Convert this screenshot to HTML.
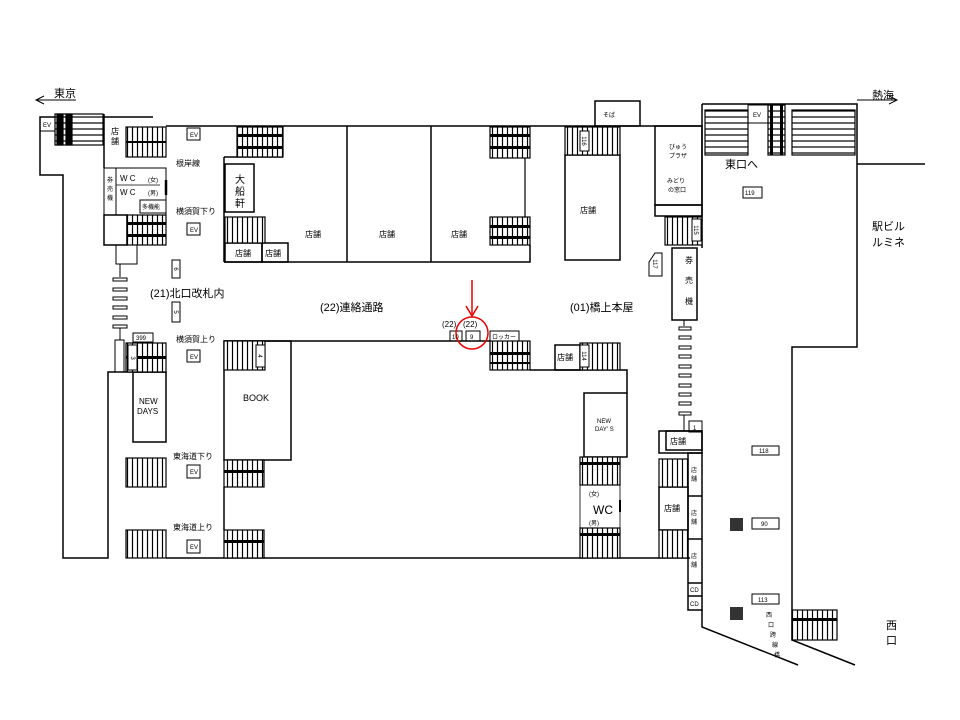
<!DOCTYPE html>
<html><head><meta charset="utf-8"><style>
html,body{margin:0;padding:0;background:#fff;}
svg{display:block;}
text{font-family:"Liberation Sans","Noto Sans CJK JP",sans-serif;fill:#000;}
</style></head><body>
<svg width="960" height="720" viewBox="0 0 960 720" xmlns="http://www.w3.org/2000/svg">
<defs>
<pattern id="v" width="5" height="10" patternUnits="userSpaceOnUse"><rect width="5" height="10" fill="#fff"/><line x1="2.5" y1="0" x2="2.5" y2="10" stroke="#000" stroke-width="1.2"/></pattern>
<pattern id="h" width="10" height="6" patternUnits="userSpaceOnUse"><rect width="10" height="6" fill="#fff"/><line x1="0" y1="3" x2="10" y2="3" stroke="#000" stroke-width="1.2"/></pattern>
</defs>
<g stroke="#000" stroke-width="1.5" fill="none">
<!-- arrows -->
<line x1="36" y1="100" x2="76" y2="100" stroke-width="1"/><polyline points="44,96 36,100 44,104" stroke-width="1"/>
<line x1="857" y1="100" x2="897" y2="100" stroke-width="1"/><polyline points="889,96 897,100 889,104" stroke-width="1"/>
<!-- outer left -->
<polyline points="153,117 40,117 40,175 63,175 63,558 108,558 108,372 166,372"/>
<rect x="40" y="117" width="15" height="14" stroke-width="1"/>
<line x1="104" y1="114" x2="104" y2="168"/>
<!-- main top line -->
<line x1="166" y1="126" x2="702" y2="126"/>
<!-- upper block -->
<polyline points="224,262 530,262 530,245"/>
<line x1="224" y1="157" x2="224" y2="262"/>
<line x1="224" y1="157" x2="283" y2="157"/>
<line x1="347" y1="126" x2="347" y2="262"/>
<line x1="431" y1="126" x2="431" y2="262"/>
<line x1="525" y1="158" x2="525" y2="217" stroke-width="1.2"/>
<rect x="225" y="164" width="29" height="48"/>
<rect x="225" y="243" width="37" height="19"/>
<rect x="262" y="243" width="26" height="19"/>
<!-- WC block -->
<rect x="104" y="168" width="62" height="47" stroke-width="1"/>
<line x1="116" y1="168" x2="116" y2="215" stroke-width="1"/>
<line x1="116" y1="185" x2="160" y2="185" stroke-width="0.8"/>
<rect x="140" y="200" width="26" height="13" stroke-width="1"/>
<line x1="166" y1="180" x2="166" y2="195" stroke-width="2.5"/>
<rect x="104" y="215" width="23" height="30"/>
<rect x="116" y="245" width="21" height="19" stroke-width="1"/>
<line x1="120" y1="264" x2="120" y2="277" stroke-width="1"/>
<!-- dashes left -->
<g stroke-width="1"><rect x="113" y="278" width="14" height="3"/><rect x="113" y="288" width="14" height="3"/><rect x="113" y="297" width="14" height="3"/><rect x="113" y="306" width="14" height="3"/><rect x="113" y="316" width="14" height="3"/><rect x="113" y="325" width="14" height="3"/></g>
<line x1="120" y1="328" x2="120" y2="340" stroke-width="1"/>
<rect x="115" y="340" width="9" height="32" stroke-width="1"/>
<rect x="133" y="333" width="20" height="9" stroke-width="1"/>
<rect x="172" y="260" width="8" height="18" stroke-width="1"/>
<rect x="172" y="302" width="8" height="20" stroke-width="1"/>
<!-- EV boxes -->
<g stroke-width="1"><rect x="187" y="128" width="13" height="12"/><rect x="187" y="223" width="13" height="12"/><rect x="187" y="350" width="13" height="12"/><rect x="187" y="465" width="13" height="13"/><rect x="187" y="540" width="13" height="13"/></g>
<!-- lower left -->
<rect x="133" y="372" width="33" height="70"/>
<line x1="166" y1="558" x2="690" y2="558"/>
<!-- lower block -->
<line x1="224" y1="341" x2="490" y2="341"/>
<rect x="224" y="341" width="67" height="119"/>
<line x1="224" y1="487" x2="224" y2="530"/>
<polyline points="530,370 627,370 627,393"/>
<rect x="584" y="393" width="43" height="64"/>
<rect x="555" y="345" width="25" height="25"/>
<rect x="450" y="331" width="12" height="10" stroke-width="1"/>
<rect x="466" y="331" width="14" height="10" stroke-width="1"/>
<rect x="490" y="331" width="29" height="10" stroke-width="1"/>
<rect x="580" y="485" width="40" height="43" stroke-width="0.8"/>
<line x1="620" y1="500" x2="620" y2="512" stroke-width="2"/>
<!-- center right -->
<rect x="565" y="155" width="55" height="105"/>
<rect x="595" y="101" width="45" height="25"/>
<rect x="655" y="126" width="47" height="79"/>
<rect x="655" y="205" width="47" height="11"/>
<rect x="672" y="248" width="25" height="72"/>
<line x1="684" y1="320" x2="684" y2="326" stroke-width="1"/>
<polygon points="662,253 662,276 649,276 649,262 655,253" stroke-width="1"/>
<line x1="702" y1="104" x2="702" y2="248"/>
<g stroke-width="1"><rect x="679" y="327" width="12" height="3"/><rect x="679" y="336" width="12" height="3"/><rect x="679" y="346" width="12" height="3"/><rect x="679" y="355" width="12" height="3"/><rect x="679" y="365" width="12" height="3"/><rect x="679" y="374" width="12" height="3"/><rect x="679" y="384" width="12" height="3"/><rect x="679" y="393" width="12" height="3"/><rect x="679" y="402" width="12" height="3"/><rect x="679" y="412" width="12" height="3"/></g>
<line x1="684" y1="415" x2="684" y2="431" stroke-width="1"/>
<rect x="689" y="421" width="13" height="11" stroke-width="1"/>
<rect x="659" y="431" width="43" height="22"/>
<rect x="666" y="431" width="36" height="19"/>
<rect x="688" y="453" width="14" height="157"/>
<line x1="688" y1="496" x2="702" y2="496"/><line x1="688" y1="539" x2="702" y2="539"/><line x1="688" y1="583" x2="702" y2="583"/><line x1="688" y1="596" x2="702" y2="596"/>
<rect x="659" y="487" width="29" height="43"/>
<polyline points="702,610 702,627 798,665"/>
<!-- right -->
<polyline points="702,104 857,104 857,347 792,347 792,640 855,665"/>
<line x1="857" y1="164" x2="925" y2="164"/>
<rect x="743" y="187" width="19" height="11" stroke-width="1"/>
<rect x="752" y="446" width="27" height="9" stroke-width="1"/>
<rect x="752" y="518" width="27" height="11" stroke-width="1"/>
<rect x="752" y="594" width="27" height="10" stroke-width="1"/>
<rect x="748" y="105" width="20" height="18" stroke-width="1"/>
</g>
<rect x="730" y="518" width="13" height="13" fill="#333"/>
<rect x="730" y="607" width="13" height="13" fill="#333"/>
<!-- stairs -->
<g stroke="#000" stroke-width="1.2">
<rect x="55" y="114" width="48" height="31" fill="url(#h)"/>
<rect x="57" y="114" width="6" height="31" fill="#000"/><rect x="66" y="114" width="6" height="31" fill="#000"/>
<rect x="126" y="127" width="40" height="30" fill="url(#v)"/>
<rect x="237" y="127" width="46" height="30" fill="url(#v)"/>
<rect x="490" y="127" width="40" height="31" fill="url(#v)"/>
<rect x="490" y="217" width="40" height="28" fill="url(#v)"/>
<rect x="225" y="217" width="40" height="26" fill="url(#v)"/>
<rect x="127" y="215" width="39" height="30" fill="url(#v)"/>
<rect x="126" y="343" width="40" height="29" fill="url(#v)"/>
<rect x="126" y="458" width="40" height="29" fill="url(#v)"/>
<rect x="126" y="530" width="40" height="28" fill="url(#v)"/>
<rect x="224" y="341" width="41" height="29" fill="url(#v)"/>
<rect x="224" y="460" width="40" height="27" fill="url(#v)"/>
<rect x="224" y="530" width="40" height="28" fill="url(#v)"/>
<rect x="490" y="341" width="40" height="29" fill="url(#v)"/>
<rect x="580" y="343" width="40" height="27" fill="url(#v)"/>
<rect x="580" y="457" width="40" height="28" fill="url(#v)"/>
<rect x="580" y="528" width="40" height="30" fill="url(#v)"/>
<rect x="565" y="127" width="55" height="28" fill="url(#v)"/>
<rect x="665" y="217" width="37" height="28" fill="url(#v)"/>
<rect x="659" y="459" width="29" height="28" fill="url(#v)"/>
<rect x="659" y="530" width="29" height="28" fill="url(#v)"/>
<rect x="792" y="610" width="45" height="30" fill="url(#v)"/>
<rect x="705" y="110" width="43" height="45" fill="url(#h)"/>
<rect x="792" y="110" width="63" height="45" fill="url(#h)"/>
<rect x="768" y="105" width="17" height="50" fill="url(#h)"/>
</g>
<g fill="#000">
<rect x="126" y="141" width="40" height="2"/><rect x="237" y="134" width="46" height="3"/><rect x="237" y="146" width="46" height="3"/>
<rect x="490" y="134" width="40" height="3"/><rect x="490" y="146" width="40" height="3"/>
<rect x="490" y="225" width="40" height="3"/><rect x="490" y="236" width="40" height="3"/>
<rect x="127" y="222" width="39" height="3"/><rect x="127" y="234" width="39" height="3"/>
<rect x="126" y="356" width="40" height="3"/>
<rect x="224" y="470" width="40" height="3"/><rect x="224" y="540" width="40" height="3"/>
<rect x="490" y="352" width="40" height="3"/><rect x="490" y="362" width="40" height="2"/>
<rect x="580" y="462" width="40" height="3"/><rect x="580" y="533" width="40" height="3"/>
<rect x="792" y="618" width="45" height="3"/>
<rect x="770" y="105" width="3" height="50"/><rect x="780" y="105" width="3" height="50"/>
</g>
<!-- stair boxes -->
<g fill="#fff" stroke="#000" stroke-width="1">
<rect x="128" y="345" width="9" height="25"/><rect x="256" y="345" width="9" height="22"/>
<rect x="580" y="131" width="9" height="20"/><rect x="580" y="345" width="9" height="22"/><rect x="692" y="219" width="9" height="22"/>
</g>
<g font-size="6" text-anchor="middle">
<text x="133" y="360" transform="rotate(90 133 358)">3</text>
<text x="260" y="358" transform="rotate(90 260 356)">4</text>
<text x="584" y="143" transform="rotate(90 584 141)">116</text>
<text x="584" y="358" transform="rotate(90 584 356)">114</text>
<text x="696" y="232" transform="rotate(90 696 230)">115</text>
<text x="655" y="266" transform="rotate(90 655 264)">117</text>
<text x="176" y="271" transform="rotate(90 176 269)">6</text>
<text x="176" y="314" transform="rotate(90 176 312)">5</text>
</g>
<!-- red -->
<line x1="472" y1="280" x2="472" y2="314" stroke="#e00" stroke-width="1.5"/>
<polyline points="466,306 472,316 478,306" stroke="#e00" stroke-width="1.5" fill="none"/>
<circle cx="472" cy="333" r="16" stroke="#e00" stroke-width="1.5" fill="none"/>
<!-- text -->
<g font-size="11">
<text x="54" y="97">東京</text><text x="872" y="99">熱海</text>
<text x="150" y="297">(21)北口改札内</text>
<text x="320" y="311">(22)連絡通路</text>
<text x="570" y="311">(01)橋上本屋</text>
<text x="725" y="168">東口へ</text>
<text x="872" y="230">駅ビル</text><text x="872" y="246">ルミネ</text>
<text x="886" y="629">西</text><text x="886" y="644">口</text>
<text x="593" y="514" font-size="12">WC</text>
</g>
<g font-size="8">
<text x="176" y="166">根岸線</text><text x="176" y="214">横須賀下り</text><text x="176" y="342">横須賀上り</text>
<text x="173" y="459">東海道下り</text><text x="173" y="530">東海道上り</text>
<text x="111" y="134">店</text><text x="111" y="144">舗</text>
<text x="235" y="183" font-size="10">大</text><text x="235" y="195" font-size="10">船</text><text x="235" y="207" font-size="10">軒</text>
<text x="235" y="256">店舗</text><text x="265" y="256">店舗</text>
<text x="305" y="237">店舗</text><text x="379" y="237">店舗</text><text x="451" y="237">店舗</text>
<text x="580" y="213">店舗</text>
<text x="120" y="181">W C</text><text x="120" y="195">W C</text>
<text x="243" y="401" font-size="9">BOOK</text>
<text x="139" y="404" font-size="8">NEW</text><text x="137" y="414" font-size="8">DAYS</text>
<text x="557" y="360">店舗</text>
<text x="670" y="444">店舗</text>
<text x="664" y="511">店舗</text>
<text x="685" y="263">券</text><text x="685" y="283">売</text><text x="685" y="304">機</text>
<text x="442" y="327">(22)</text><text x="463" y="327">(22)</text>
</g>
<g font-size="6">
<text x="43" y="127">EV</text><text x="190" y="137">EV</text><text x="190" y="232">EV</text><text x="190" y="359">EV</text><text x="190" y="474">EV</text><text x="190" y="549">EV</text><text x="753" y="117">EV</text>
<text x="148" y="182">(女)</text><text x="148" y="195">(男)</text><text x="142" y="209">多機能</text>
<text x="107" y="182">券</text><text x="107" y="191">売</text><text x="107" y="200">機</text>
<text x="136" y="340">399</text><text x="452" y="339">10</text><text x="470" y="339">9</text><text x="492" y="339">ロッカー</text>
<text x="603" y="117">そば</text>
<text x="669" y="149">びゅう</text><text x="669" y="158">プラザ</text><text x="667" y="183">みどり</text><text x="668" y="192">の窓口</text>
<text x="745" y="195">119</text><text x="759" y="453">118</text><text x="761" y="526">90</text><text x="758" y="602">113</text>
<text x="693" y="430">1</text>
<text x="597" y="423">NEW</text><text x="595" y="431">DAY' S</text>
<text x="589" y="496">(女)</text><text x="589" y="525">(男)</text>
<text x="691" y="472">店</text><text x="691" y="481">舗</text>
<text x="691" y="515">店</text><text x="691" y="524">舗</text>
<text x="691" y="558">店</text><text x="691" y="567">舗</text>
<text x="690" y="592">CD</text><text x="690" y="606">CD</text>
<text x="766" y="617">西</text><text x="768" y="627">口</text><text x="770" y="637">跨</text><text x="772" y="647">線</text><text x="774" y="657">橋</text>
</g>
</svg>
</body></html>
